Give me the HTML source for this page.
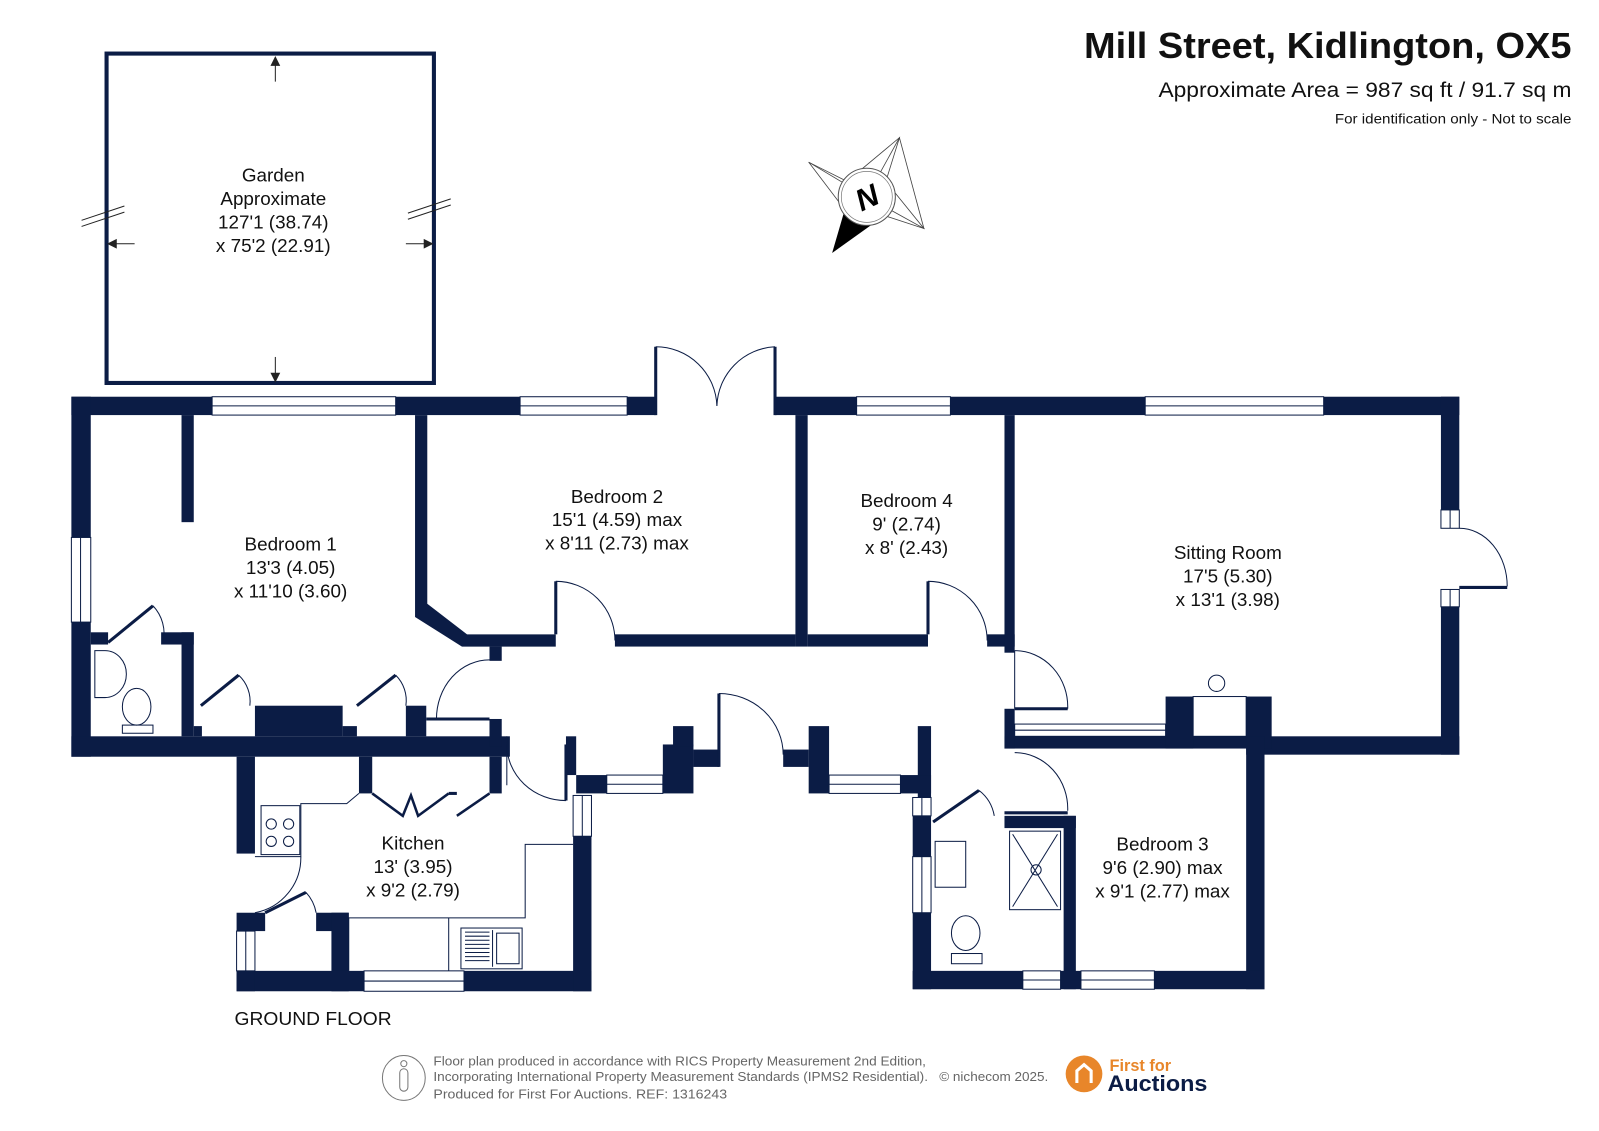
<!DOCTYPE html>
<html><head><meta charset="utf-8"><style>
html,body{margin:0;padding:0;background:#fff;width:1599px;height:1131px;overflow:hidden}
svg{display:block}
text{font-family:"Liberation Sans",sans-serif}
.r{font-size:18.5px;fill:#111;text-anchor:middle}
</style></head><body>
<svg width="1599" height="1131" viewBox="0 0 1568 1109" xmlns="http://www.w3.org/2000/svg">
<!-- title -->
<text x="1063" y="57" textLength="478" lengthAdjust="spacingAndGlyphs" font-size="35" font-weight="bold" fill="#111">Mill Street, Kidlington, OX5</text>
<text x="1136" y="95" textLength="405" lengthAdjust="spacingAndGlyphs" font-size="21" fill="#111">Approximate Area = 987 sq ft / 91.7 sq m</text>
<text x="1309" y="121" textLength="232" lengthAdjust="spacingAndGlyphs" font-size="13.5" fill="#111">For identification only - Not to scale</text>

<!-- compass -->
<g stroke="#444" stroke-width="0.8" fill="#fff">
<polygon points="882,135 868,180 850,193 840,170"/>
<polygon points="793,159 835,180 850,193 828,205"/>
<polygon points="906,224 863,210 850,193 872,182"/>
<polygon points="882,135 850,193 793,159 850,193 906,224" fill="none"/>
</g>
<polygon points="816,248 830,200 858,218" fill="#000"/>
<circle cx="850" cy="193" r="28" fill="#fff" stroke="#555" stroke-width="1"/>
<circle cx="850" cy="193" r="25" fill="none" stroke="#777" stroke-width="0.7"/>
<text x="850" y="204" text-anchor="middle" font-size="30" font-weight="bold" font-style="italic" fill="#000" transform="rotate(-25 850 193)">N</text>

<!-- garden -->
<rect x="104.5" y="52.5" width="321" height="323" fill="none" stroke="#0b1c45" stroke-width="4"/>
<g stroke="#222" stroke-width="1" fill="#222">
<line x1="270" y1="58" x2="270" y2="80"/><polygon points="266,64 274,64 270,56"/>
<line x1="270" y1="350" x2="270" y2="372"/><polygon points="266,366 274,366 270,374"/>
<line x1="108" y1="239" x2="132" y2="239"/><polygon points="114,235 114,243 106,239"/>
<line x1="398" y1="239" x2="422" y2="239"/><polygon points="416,235 416,243 424,239"/>
<line x1="80" y1="222" x2="122" y2="208" fill="none"/><line x1="80" y1="216" x2="122" y2="202" fill="none"/>
<line x1="400" y1="215" x2="442" y2="201" fill="none"/><line x1="400" y1="209" x2="442" y2="195" fill="none"/>
</g>
<text class="r" x="268" y="178">Garden</text>
<text class="r" x="268" y="201">Approximate</text>
<text class="r" x="268" y="224">127'1 (38.74)</text>
<text class="r" x="268" y="247">x 75'2 (22.91)</text>

<!-- walls -->
<g fill="#0b1c45">
<rect x="70" y="389" width="138" height="18"/>
<rect x="388" y="389" width="122" height="18"/>
<rect x="615" y="389" width="28" height="18"/>
<rect x="760" y="389" width="80" height="18"/>
<rect x="932" y="389" width="191" height="18"/>
<rect x="1298" y="389" width="133" height="18"/>
<rect x="70" y="389" width="19" height="138"/>
<rect x="70" y="610" width="19" height="132"/>
<rect x="70" y="722" width="430" height="20"/>
<rect x="178" y="407" width="12" height="105"/>
<rect x="178" y="620" width="12" height="102"/>
<rect x="158" y="620" width="32" height="12"/>
<rect x="89" y="620" width="17" height="12"/>
<rect x="250" y="692" width="86" height="30"/>
<rect x="398" y="692" width="20" height="30"/>
<rect x="190" y="712" width="8" height="10"/>
<rect x="336" y="712" width="14" height="10"/>
<polygon points="407,407 419,407 419,592 458,622 545,622 545,634 453,634 407,605"/>
<rect x="480" y="634" width="12" height="14"/>
<rect x="603" y="622" width="177" height="12"/>
<rect x="780" y="407" width="12" height="227"/>
<rect x="792" y="622" width="118" height="12"/>
<rect x="968" y="622" width="27" height="12"/>
<rect x="985" y="407" width="10" height="233"/>
<rect x="1413" y="389" width="18" height="111"/>
<rect x="1413" y="595" width="18" height="145"/>
<rect x="1222" y="722" width="209" height="18"/>
<rect x="985" y="722" width="255" height="12"/>
<rect x="1143" y="683" width="27" height="51"/>
<rect x="1222" y="683" width="25" height="51"/>
<rect x="985" y="695" width="10" height="39"/>
<rect x="1222" y="722" width="18" height="248"/>
<rect x="1043" y="800" width="12" height="170"/>
<rect x="985" y="800" width="70" height="12"/>
<rect x="895" y="952" width="108" height="18"/>
<rect x="1040" y="952" width="20" height="18"/>
<rect x="1132" y="952" width="108" height="18"/>
<rect x="895" y="800" width="18" height="40"/>
<rect x="895" y="895" width="18" height="75"/>
<rect x="900" y="712" width="13" height="70"/>
<rect x="883" y="760" width="30" height="18"/>
<rect x="480" y="705" width="12" height="27"/>
<rect x="555" y="722" width="10" height="38"/>
<rect x="565" y="760" width="30" height="18"/>
<rect x="650" y="730" width="30" height="48"/>
<rect x="660" y="712" width="20" height="20"/>
<rect x="680" y="735" width="25" height="17"/>
<rect x="768" y="735" width="25" height="17"/>
<rect x="793" y="712" width="20" height="66"/>
<rect x="232" y="742" width="18" height="95"/>
<rect x="352" y="742" width="13" height="36"/>
<rect x="480" y="742" width="12" height="36"/>
<rect x="232" y="895" width="28" height="18"/>
<rect x="310" y="895" width="32" height="18"/>
<rect x="325" y="895" width="17" height="77"/>
<rect x="232" y="952" width="125" height="20"/>
<rect x="455" y="952" width="125" height="20"/>
<rect x="562" y="820" width="18" height="152"/>
<rect x="232" y="913" width="18" height="59"/>
</g>
<!-- windows -->
<g fill="#fff" stroke="#0b1c45" stroke-width="1">
<rect x="208" y="389" width="180" height="18"/><line x1="208" y1="398" x2="388" y2="398"/>
<rect x="510" y="389" width="105" height="18"/><line x1="510" y1="398" x2="615" y2="398"/>
<rect x="840" y="389" width="92" height="18"/><line x1="840" y1="398" x2="932" y2="398"/>
<rect x="1123" y="389" width="175" height="18"/><line x1="1123" y1="398" x2="1298" y2="398"/>
<rect x="70" y="527" width="19" height="83"/><line x1="79" y1="527" x2="79" y2="610"/>
<rect x="1413" y="500" width="18" height="18"/><line x1="1422" y1="500" x2="1422" y2="518"/>
<rect x="1413" y="578" width="18" height="17"/><line x1="1422" y1="578" x2="1422" y2="595"/>
<rect x="995" y="710" width="148" height="12"/><line x1="995" y1="716" x2="1143" y2="716"/>
<rect x="1170" y="683" width="52" height="39"/>
<rect x="595" y="760" width="55" height="18"/><line x1="595" y1="769" x2="650" y2="769"/>
<rect x="813" y="760" width="70" height="18"/><line x1="813" y1="769" x2="883" y2="769"/>
<rect x="562" y="780" width="18" height="40"/><line x1="571" y1="780" x2="571" y2="820"/>
<rect x="895" y="782" width="18" height="18"/><line x1="904" y1="782" x2="904" y2="800"/>
<rect x="895" y="840" width="18" height="55"/><line x1="904" y1="840" x2="904" y2="895"/>
<rect x="1003" y="952" width="37" height="18"/><line x1="1003" y1="961" x2="1040" y2="961"/>
<rect x="1060" y="952" width="72" height="18"/><line x1="1060" y1="961" x2="1132" y2="961"/>
<rect x="357" y="952" width="98" height="20"/><line x1="357" y1="962" x2="455" y2="962"/>
<rect x="232" y="913" width="18" height="39"/><line x1="241" y1="913" x2="241" y2="952"/>
</g>
<!-- doors -->
<g fill="none" stroke="#0b1c45" stroke-width="1">
<line x1="643" y1="340" x2="643" y2="407" stroke-width="3"/>
<line x1="760" y1="340" x2="760" y2="407" stroke-width="3"/>
<path d="M643,340 A60,60 0 0 1 703,398"/>
<path d="M760,340 A60,60 0 0 0 703,398"/>
<line x1="545" y1="570" x2="545" y2="622" stroke-width="3"/><path d="M545,570 A58,58 0 0 1 603,628"/>
<line x1="910" y1="570" x2="910" y2="622" stroke-width="3"/><path d="M910,570 A58,58 0 0 1 968,628"/>
<line x1="995" y1="638" x2="995" y2="695"/><path d="M995,638 A52,55 0 0 1 1047,695"/><line x1="995" y1="695" x2="1047" y2="695" stroke-width="3"/>
<path d="M995,738 A52,55 0 0 1 1047,795"/><line x1="985" y1="797" x2="1047" y2="797" stroke-width="3"/>
<path d="M1431,518 A47,57 0 0 1 1478,575"/><line x1="1431" y1="576" x2="1478" y2="576" stroke-width="3"/>
<path d="M480,647 A52,58 0 0 0 428,705"/><line x1="418" y1="705" x2="480" y2="705" stroke-width="3"/>
<line x1="497" y1="722" x2="497" y2="770"/><path d="M497,730 A58,55 0 0 0 555,785"/><line x1="555" y1="730" x2="555" y2="785" stroke-width="3"/>
<line x1="705" y1="680" x2="705" y2="752" stroke-width="3"/><path d="M705,680 A63,60 0 0 1 768,740"/>
<line x1="106" y1="630" x2="150" y2="594" stroke-width="3"/><path d="M150,594 A40,40 0 0 1 160,630"/>
<line x1="197" y1="692" x2="234" y2="662" stroke-width="3"/><path d="M234,662 A35,35 0 0 1 245,692"/>
<line x1="350" y1="692" x2="388" y2="662" stroke-width="3"/><path d="M388,662 A35,35 0 0 1 398,692"/>
<line x1="915" y1="806" x2="960" y2="775" stroke-width="3"/><path d="M960,775 A40,40 0 0 1 975,800"/>
<line x1="260" y1="895" x2="300" y2="875" stroke-width="3"/><path d="M300,875 A40,40 0 0 1 310,895"/>
<path d="M295,840 A55,55 0 0 1 250,895"/>
<polyline points="365,778 395,800 403,780 410,800 440,778" stroke-width="2.5"/>
<polyline points="440,778 448,778" stroke-width="3"/>
<line x1="448" y1="800" x2="480" y2="778" stroke-width="2.5"/>
<polyline points="250,840 295,840 295,788 340,788 352,778"/>
<polyline points="562,828 515,828 515,900 342,900 342,952"/>
<line x1="440" y1="900" x2="440" y2="952"/>
<rect x="256" y="790" width="38" height="48"/>
<circle cx="266" cy="808" r="5"/><circle cx="283" cy="808" r="5"/><circle cx="266" cy="825" r="5"/><circle cx="283" cy="825" r="5"/>
<rect x="452" y="910" width="60" height="40"/><line x1="483" y1="912" x2="483" y2="948"/>
<path d="M456,914 h24 M456,918 h24 M456,922 h24 M456,926 h24 M456,930 h24 M456,934 h24 M456,938 h24 M456,942 h24"/>
<rect x="487" y="915" width="22" height="30"/>
<path d="M93,638 h10 a20,22 0 0 1 0,46 h-10 z"/>
<ellipse cx="134" cy="693" rx="14" ry="18"/><rect x="120" y="711" width="30" height="8"/>
<rect x="917" y="825" width="30" height="45"/>
<rect x="990" y="815" width="50" height="77"/><line x1="993" y1="818" x2="1037" y2="889"/><line x1="1037" y1="818" x2="993" y2="889"/>
<circle cx="1016" cy="853" r="5"/>
<ellipse cx="947" cy="915" rx="14" ry="17"/><rect x="933" y="935" width="30" height="10"/>
<circle cx="1193" cy="670" r="8"/>
</g>
<!-- labels -->
<text class="r" x="285" y="540">Bedroom 1</text>
<text class="r" x="285" y="563">13'3 (4.05)</text>
<text class="r" x="285" y="586">x 11'10 (3.60)</text>
<text class="r" x="605" y="493">Bedroom 2</text>
<text class="r" x="605" y="516">15'1 (4.59) max</text>
<text class="r" x="605" y="539">x 8'11 (2.73) max</text>
<text class="r" x="889" y="497">Bedroom 4</text>
<text class="r" x="889" y="520">9' (2.74)</text>
<text class="r" x="889" y="543">x 8' (2.43)</text>
<text class="r" x="1204" y="548">Sitting Room</text>
<text class="r" x="1204" y="571">17'5 (5.30)</text>
<text class="r" x="1204" y="594">x 13'1 (3.98)</text>
<text class="r" x="1140" y="834">Bedroom 3</text>
<text class="r" x="1140" y="857">9'6 (2.90) max</text>
<text class="r" x="1140" y="880">x 9'1 (2.77) max</text>
<text class="r" x="405" y="833">Kitchen</text>
<text class="r" x="405" y="856">13' (3.95)</text>
<text class="r" x="405" y="879">x 9'2 (2.79)</text>
<text x="230" y="1005" font-size="18.5" textLength="154" lengthAdjust="spacingAndGlyphs" fill="#111">GROUND FLOOR</text>
<!-- footer -->
<ellipse cx="396" cy="1057" rx="21" ry="22" fill="none" stroke="#777" stroke-width="1"/>
<circle cx="396" cy="1043" r="3" fill="none" stroke="#777"/>
<rect x="392" y="1048" width="8" height="22" rx="4" fill="none" stroke="#777"/>
<g font-size="12.5" fill="#666">
<text x="425" y="1045" textLength="483" lengthAdjust="spacingAndGlyphs">Floor plan produced in accordance with RICS Property Measurement 2nd Edition,</text>
<text x="425" y="1060" textLength="485" lengthAdjust="spacingAndGlyphs">Incorporating International Property Measurement Standards (IPMS2 Residential).</text>
<text x="921" y="1060" textLength="107" lengthAdjust="spacingAndGlyphs">© nichecom 2025.</text>
<text x="425" y="1077" textLength="288" lengthAdjust="spacingAndGlyphs">Produced for First For Auctions.   REF:  1316243</text>
</g>
<circle cx="1063" cy="1053" r="18" fill="#e8862a"/>
<path d="M1056,1062 v-12 l7,-6 l7,6 v12" fill="none" stroke="#fff" stroke-width="3"/>
<text x="1088" y="1050" font-size="16" font-weight="bold" fill="#e8862a">First for</text>
<text x="1086" y="1070" font-size="22" font-weight="bold" fill="#0b1c45" textLength="98" lengthAdjust="spacingAndGlyphs">Auctions</text>
</svg>
</body></html>
